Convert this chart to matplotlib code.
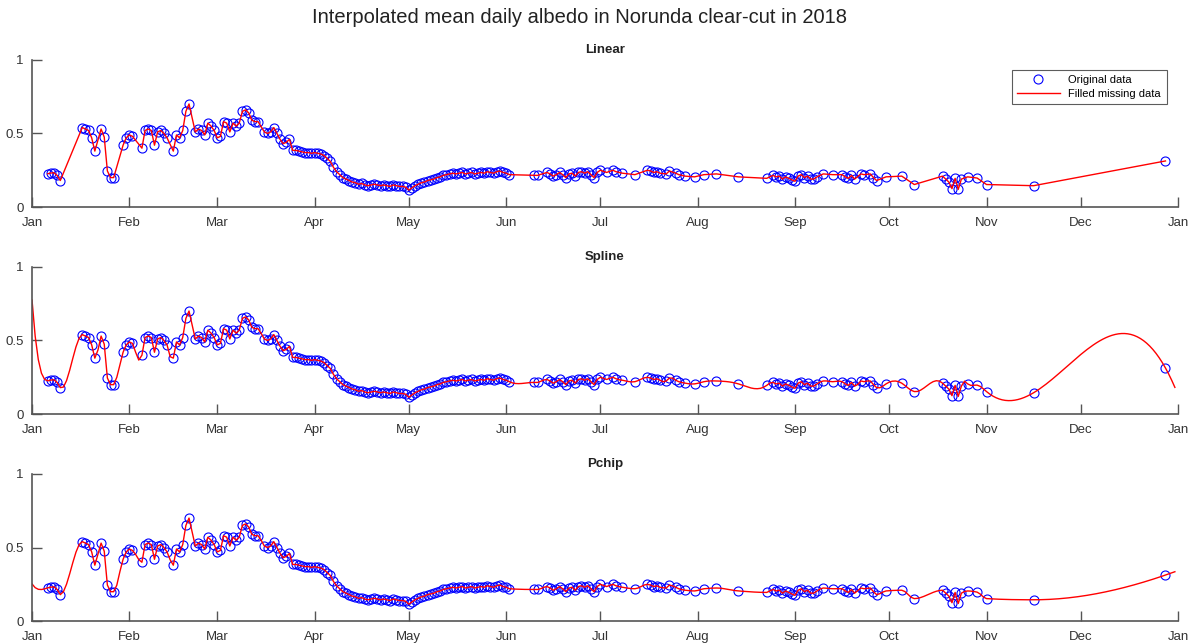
import numpy as np
import matplotlib
matplotlib.use("Agg")
import matplotlib.pyplot as plt
import matplotlib.dates as mdates

# --- Data: day of year (0 = 1 Jan 2018) and mean daily albedo ---
days = [
    5, 6, 7, 8, 9,
    16, 17, 18, 19, 20, 22, 23, 24, 25, 26,
    29, 30, 31, 32, 35, 36, 37, 38, 39, 40, 41, 42, 43, 45, 46, 47, 48, 49, 50,
    52, 53, 54, 55, 56, 57, 58, 59, 60, 61, 62, 63, 64, 65, 66, 67, 68, 69, 70, 71, 72,
    74, 75, 76, 77, 78, 79, 80, 81, 82, 83,
    84, 85, 86, 87, 88, 89, 90, 91, 92, 93, 94, 95, 96, 97, 98, 99, 100,
    101, 102, 103, 104, 105, 106, 107, 108, 109, 110, 111, 112, 113, 114, 115,
    116, 117, 118, 119, 120, 121, 122, 123, 124, 125, 126, 127, 128, 129, 130,
    131, 132, 133, 134, 135, 136, 137, 138, 139, 140, 141, 142, 143, 144, 145,
    146, 147, 148, 149, 150, 151, 152,
    160, 161, 164, 165, 166, 167, 168, 169, 170, 171, 172, 173, 174, 175, 176,
    177, 178, 179, 180, 181, 183, 185, 186, 188, 192, 196, 197, 198, 199, 200,
    202, 203, 205, 206, 208, 211, 214, 218, 225, 234, 236, 237, 238, 239,
    240, 241, 242, 243, 244, 245, 246, 247, 248, 249, 250, 252, 255, 258, 259,
    260, 261, 262, 264, 265, 267, 268, 269, 272, 277, 281, 290, 291, 292, 293,
    294, 295, 296, 298, 301, 304, 319, 361,
]
albedo = [
    0.226, 0.231, 0.233, 0.215, 0.18,
    0.54, 0.53, 0.52, 0.47, 0.38, 0.53, 0.475, 0.245, 0.20, 0.20,
    0.42, 0.47, 0.49, 0.48, 0.40, 0.52, 0.53, 0.52, 0.42, 0.51, 0.52, 0.50, 0.47, 0.38, 0.49, 0.47, 0.52, 0.65, 0.70,
    0.51, 0.53, 0.52, 0.49, 0.57, 0.55, 0.52, 0.47, 0.48, 0.58, 0.57, 0.51, 0.57, 0.55, 0.57, 0.65, 0.66, 0.64, 0.59, 0.58, 0.58,
    0.51, 0.50, 0.51, 0.54, 0.50, 0.46, 0.43, 0.44, 0.46, 0.385,
    0.385, 0.38, 0.375, 0.37, 0.37, 0.365, 0.37, 0.365, 0.36, 0.35, 0.33, 0.31, 0.27, 0.24, 0.22, 0.20, 0.19,
    0.18, 0.17, 0.165, 0.155, 0.16, 0.15, 0.145, 0.15, 0.155, 0.15, 0.145, 0.15, 0.145, 0.14, 0.15,
    0.145, 0.14, 0.14, 0.135, 0.115, 0.13, 0.145, 0.155, 0.165, 0.17, 0.18, 0.185, 0.19, 0.20, 0.205,
    0.215, 0.22, 0.225, 0.23, 0.225, 0.23, 0.235, 0.225, 0.23, 0.235, 0.225, 0.23, 0.235, 0.23, 0.24,
    0.235, 0.23, 0.24, 0.245, 0.235, 0.23, 0.22,
    0.215, 0.215, 0.235, 0.225, 0.21, 0.22, 0.235, 0.22, 0.20, 0.225, 0.23, 0.21, 0.235, 0.24, 0.23,
    0.24, 0.22, 0.20, 0.235, 0.25, 0.235, 0.25, 0.24, 0.23, 0.22, 0.25, 0.245, 0.235, 0.24, 0.23,
    0.225, 0.245, 0.23, 0.22, 0.21, 0.205, 0.22, 0.225, 0.205, 0.195, 0.215, 0.205, 0.21, 0.19,
    0.205, 0.195, 0.185, 0.175, 0.21, 0.22, 0.20, 0.21, 0.19, 0.19, 0.205, 0.225, 0.22, 0.22, 0.205,
    0.195, 0.215, 0.19, 0.225, 0.22, 0.225, 0.20, 0.18, 0.205, 0.21, 0.153, 0.21, 0.19, 0.17, 0.125,
    0.195, 0.12, 0.19, 0.205, 0.197, 0.153, 0.145, 0.313,
]

panel_titles = ["Linear", "Spline", "Pchip"]
month_labels = ["Jan", "Feb", "Mar", "Apr", "May", "Jun", "Jul", "Aug", "Sep", "Oct", "Nov", "Dec", "Jan"]


# --- Hermite evaluation shared by spline and pchip ---
def hermite_eval(x, y, d, xq):
    h = np.diff(x)
    delta = np.diff(y) / h
    k = np.clip(np.searchsorted(x, xq, side="right") - 1, 0, len(x) - 2)
    s = xq - x[k]
    c = (3 * delta[k] - 2 * d[k] - d[k + 1]) / h[k]
    b = (d[k] - 2 * delta[k] + d[k + 1]) / h[k] ** 2
    return y[k] + s * (d[k] + s * (c + s * b))


def spline_notaknot(x, y, xq):
    n = len(x)
    h = np.diff(x)
    dl = np.diff(y) / h
    A = np.zeros((n, n))
    r = np.zeros(n)
    for i in range(1, n - 1):
        A[i, i - 1] = h[i]
        A[i, i] = 2 * (h[i - 1] + h[i])
        A[i, i + 1] = h[i - 1]
        r[i] = 3 * (h[i] * dl[i - 1] + h[i - 1] * dl[i])
    x31 = h[0] + h[1]
    A[0, 0] = h[1]
    A[0, 1] = x31
    r[0] = ((h[0] + 2 * x31) * h[1] * dl[0] + h[0] ** 2 * dl[1]) / x31
    xn = h[-1] + h[-2]
    A[-1, -2] = xn
    A[-1, -1] = h[-2]
    r[-1] = (h[-1] ** 2 * dl[-2] + (2 * xn + h[-1]) * h[-2] * dl[-1]) / xn
    d = np.linalg.solve(A, r)
    return hermite_eval(x, y, d, xq)


def pchip(x, y, xq):
    h = np.diff(x)
    dl = np.diff(y) / h
    n = len(x)
    d = np.zeros(n)
    for k in range(1, n - 1):
        if dl[k - 1] * dl[k] > 0:
            w1 = 2 * h[k] + h[k - 1]
            w2 = h[k] + 2 * h[k - 1]
            d[k] = (w1 + w2) / (w1 / dl[k - 1] + w2 / dl[k])

    def end_slope(h0, h1, d0, d1):
        v = ((2 * h0 + h1) * d0 - h0 * d1) / (h0 + h1)
        if np.sign(v) != np.sign(d0):
            v = 0.0
        elif np.sign(d0) != np.sign(d1) and abs(v) > abs(3 * d0):
            v = 3 * d0
        return v

    d[0] = end_slope(h[0], h[1], dl[0], dl[1])
    d[-1] = end_slope(h[-1], h[-2], dl[-1], dl[-2])
    return hermite_eval(x, y, d, xq)


x = np.array(days, dtype=float)
y = np.array(albedo, dtype=float)
all_days = np.arange(0, 365, dtype=float)

start = np.datetime64("2018-01-01")
t_obs = start + np.array(days).astype("timedelta64[D]")
t_all = start + all_days.astype(int).astype("timedelta64[D]")

filled = [
    (t_obs, y),
    (t_all, spline_notaknot(x, y, all_days)),
    (t_all, pchip(x, y, all_days)),
]

plt.rcParams["font.family"] = ["Liberation Sans", "DejaVu Sans"]

fig = plt.figure(figsize=(11.95, 6.43), dpi=100)
fig.suptitle("Interpolated mean daily albedo in Norunda clear-cut in 2018",
             x=0.485, y=0.988, fontsize=14.5, color="#222222")

bottoms = [0.678, 0.356, 0.034]
axes_color = "#555555"
for i, (title, bot) in enumerate(zip(panel_titles, bottoms)):
    ax = fig.add_axes([0.0268, bot, 0.959, 0.229])
    ax.plot(t_obs, y, "o", color="blue", markerfacecolor="none",
            markersize=6.5, markeredgewidth=0.8, label="Original data")
    tf, yf = filled[i]
    ax.plot(tf, yf, "-", color="red", linewidth=1.0, label="Filled missing data")
    ax.set_xlim(np.datetime64("2018-01-01"), np.datetime64("2019-01-01"))
    ax.set_ylim(0, 1)
    ax.set_yticks([0, 0.5, 1])
    ax.set_yticklabels(["0", "0.5", "1"])
    ax.xaxis.set_major_locator(mdates.MonthLocator())
    ax.set_xticks(ax.get_xticks())
    ax.set_xticklabels(month_labels)
    for side in ["top", "right"]:
        ax.spines[side].set_visible(False)
    for side in ["left", "bottom"]:
        ax.spines[side].set_color(axes_color)
        ax.spines[side].set_linewidth(1.2)
    ax.tick_params(direction="in", length=7, width=1.0, color=axes_color,
                   labelcolor="#333333", labelsize=9.5)
    ax.tick_params(axis="x", pad=7)
    ax.tick_params(axis="y", pad=6)
    ax.set_title(title, fontsize=9.5, fontweight="bold", pad=5, color="#222222")
    if i == 0:
        leg = ax.legend(loc="upper right", bbox_to_anchor=(0.99, 0.932), fontsize=8,
                        frameon=True, fancybox=False, borderpad=0.5, borderaxespad=0,
                        handlelength=3.8, labelspacing=0.3)
        leg.get_frame().set_edgecolor("#333333")
        leg.get_frame().set_linewidth(0.8)

fig.savefig("out.png", dpi=100)
